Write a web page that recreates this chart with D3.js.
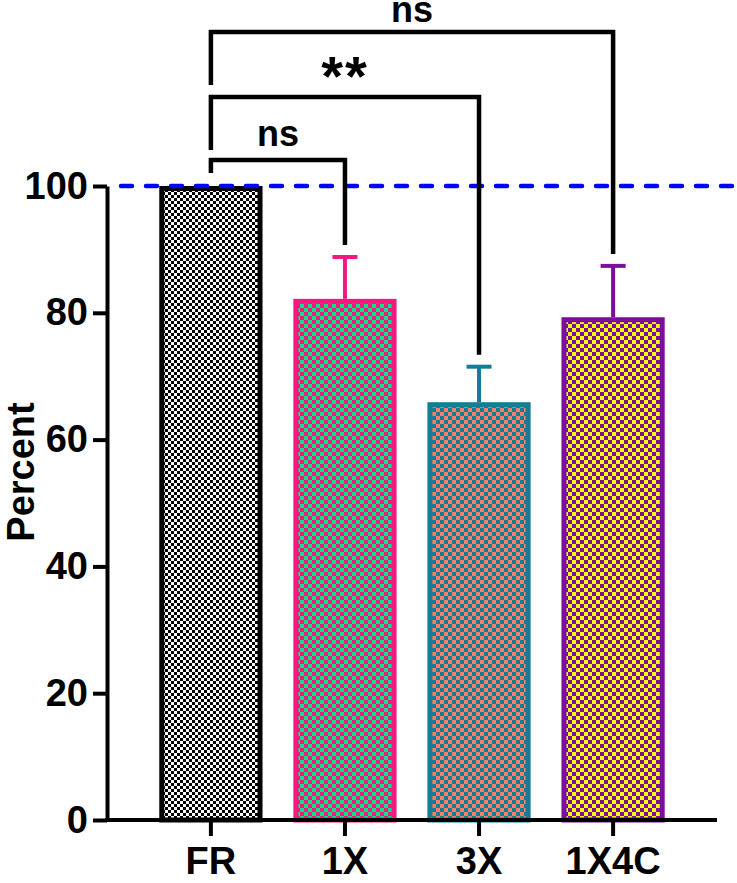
<!DOCTYPE html>
<html>
<head>
<meta charset="utf-8">
<script src="https://cdn.jsdelivr.net/npm/d3@7"></script>
<style>
  html, body { margin: 0; padding: 0; background: #fff; }
  svg { display: block; }
  text { font-family: "Liberation Sans", Arial, sans-serif; font-weight: bold; fill: #000; }
</style>
</head>
<body>
<script>
// ---- data ----
const categories = ["FR", "1X", "3X", "1X4C"];
const means = [100, 82.2, 65.9, 79.3];
const errors = [0, 6.6, 5.6, 8.1];
const yTicks = [0, 20, 40, 60, 80, 100];
const referenceLine = 100;
const strokeColors = ["#000000", "#f5197f", "#137d96", "#7a0f9c"];
const checkA = ["#000000", "#f5197f", "#137d96", "#7a0f9c"];
const checkB = ["#ffffff", "#00e88a", "#fa7f6a", "#ffff00"];
const checkSize = [3, 4, 4, 4];
const comparisons = [
  { from: 0, to: 1, label: "ns" },
  { from: 0, to: 2, label: "**" },
  { from: 0, to: 3, label: "ns" }
];

// ---- layout ----
const W = 737, H = 883;
const svg = d3.select("body").append("svg").attr("width", W).attr("height", H);

const x = d3.scaleBand().domain(categories).range([107, 717]).paddingInner(0.23).paddingOuter(0.39);
const y = d3.scaleLinear().domain([0, 100]).range([820, 186]);

// patterns
const defs = svg.append("defs");
categories.forEach((c, i) => {
  const s = checkSize[i];
  const p = defs.append("pattern")
    .attr("id", "pat" + i)
    .attr("patternUnits", "userSpaceOnUse")
    .attr("width", 2 * s).attr("height", 2 * s);
  p.append("rect").attr("width", 2 * s).attr("height", 2 * s).attr("fill", checkB[i]);
  p.append("rect").attr("x", 0).attr("y", 0).attr("width", s).attr("height", s).attr("fill", checkA[i]);
  p.append("rect").attr("x", s).attr("y", s).attr("width", s).attr("height", s).attr("fill", checkA[i]);
});

// bars
const bw = 5;
svg.append("g").selectAll("rect").data(categories).join("rect")
  .attr("x", d => x(d) + bw / 2)
  .attr("y", (d, i) => y(means[i]) + bw / 2)
  .attr("width", x.bandwidth() - bw)
  .attr("height", (d, i) => y(0) - y(means[i]) - bw / 2)
  .attr("fill", (d, i) => `url(#pat${i})`)
  .attr("stroke", (d, i) => strokeColors[i])
  .attr("stroke-width", bw);

// error bars
const eb = svg.append("g");
categories.forEach((c, i) => {
  if (!errors[i]) return;
  const cx = x(c) + x.bandwidth() / 2;
  eb.append("line").attr("x1", cx).attr("x2", cx)
    .attr("y1", y(means[i])).attr("y2", y(means[i] + errors[i]))
    .attr("stroke", strokeColors[i]).attr("stroke-width", 4);
  eb.append("line").attr("x1", cx - 12.5).attr("x2", cx + 12.5)
    .attr("y1", y(means[i] + errors[i])).attr("y2", y(means[i] + errors[i]))
    .attr("stroke", strokeColors[i]).attr("stroke-width", 4);
});

// axes
const yAxis = svg.append("g").attr("transform", "translate(107,0)")
  .call(d3.axisLeft(y).tickValues(yTicks).tickSize(14).tickPadding(5).tickSizeOuter(0));
yAxis.select(".domain").attr("stroke", "#000").attr("stroke-width", 4);
yAxis.selectAll(".tick line").attr("stroke", "#000").attr("stroke-width", 4);
yAxis.selectAll(".tick text").attr("font-size", 38).attr("font-family", "Liberation Sans, Arial, sans-serif").attr("font-weight", "bold").attr("fill", "#000");

const xAxis = svg.append("g").attr("transform", "translate(0,820)")
  .call(d3.axisBottom(x).tickSize(16).tickPadding(11).tickSizeOuter(0));
xAxis.select(".domain").attr("stroke", "#000").attr("stroke-width", 4).attr("d", "M105,0H717");
xAxis.selectAll(".tick line").attr("stroke", "#000").attr("stroke-width", 4);
xAxis.selectAll(".tick text").attr("font-size", 38).attr("font-family", "Liberation Sans, Arial, sans-serif").attr("font-weight", "bold").attr("fill", "#000");

// y title
svg.append("text")
  .attr("transform", `translate(34,${472}) rotate(-90)`)
  .attr("text-anchor", "middle")
  .attr("font-size", 38)
  .text("Percent");

// reference line
svg.append("line")
  .attr("x1", 111).attr("x2", W)
  .attr("y1", y(referenceLine)).attr("y2", y(referenceLine))
  .attr("stroke", "#0000ff").attr("stroke-width", 4.5)
  .attr("stroke-dasharray", "11,14").attr("stroke-linecap", "round")
  .attr("stroke-dashoffset", -10);

// significance brackets
const bracketY = [160, 97, 32];
const leftBottom = [173, 150, 85];
const br = svg.append("g");
comparisons.forEach((cmp, k) => {
  const x1 = x(categories[cmp.from]) + x.bandwidth() / 2;
  const x2 = x(categories[cmp.to]) + x.bandwidth() / 2;
  const yTop = bracketY[k];
  const rightBottom = y(means[cmp.to] + errors[cmp.to]) - 12;
  br.append("path")
    .attr("d", `M${x1},${leftBottom[k]}V${yTop}H${x2}V${rightBottom}`)
    .attr("fill", "none").attr("stroke", "#000").attr("stroke-width", 4.5);
  const t = br.append("text")
    .attr("x", (x1 + x2) / 2)
    .attr("text-anchor", "middle");
  if (cmp.label === "**") {
    t.attr("y", yTop - 2).attr("font-size", 56).attr("letter-spacing", 2).text(cmp.label);
  } else {
    t.attr("y", Math.max(yTop - 14, 22)).attr("font-size", 36).text(cmp.label);
  }
});
</script>
</body>
</html>
